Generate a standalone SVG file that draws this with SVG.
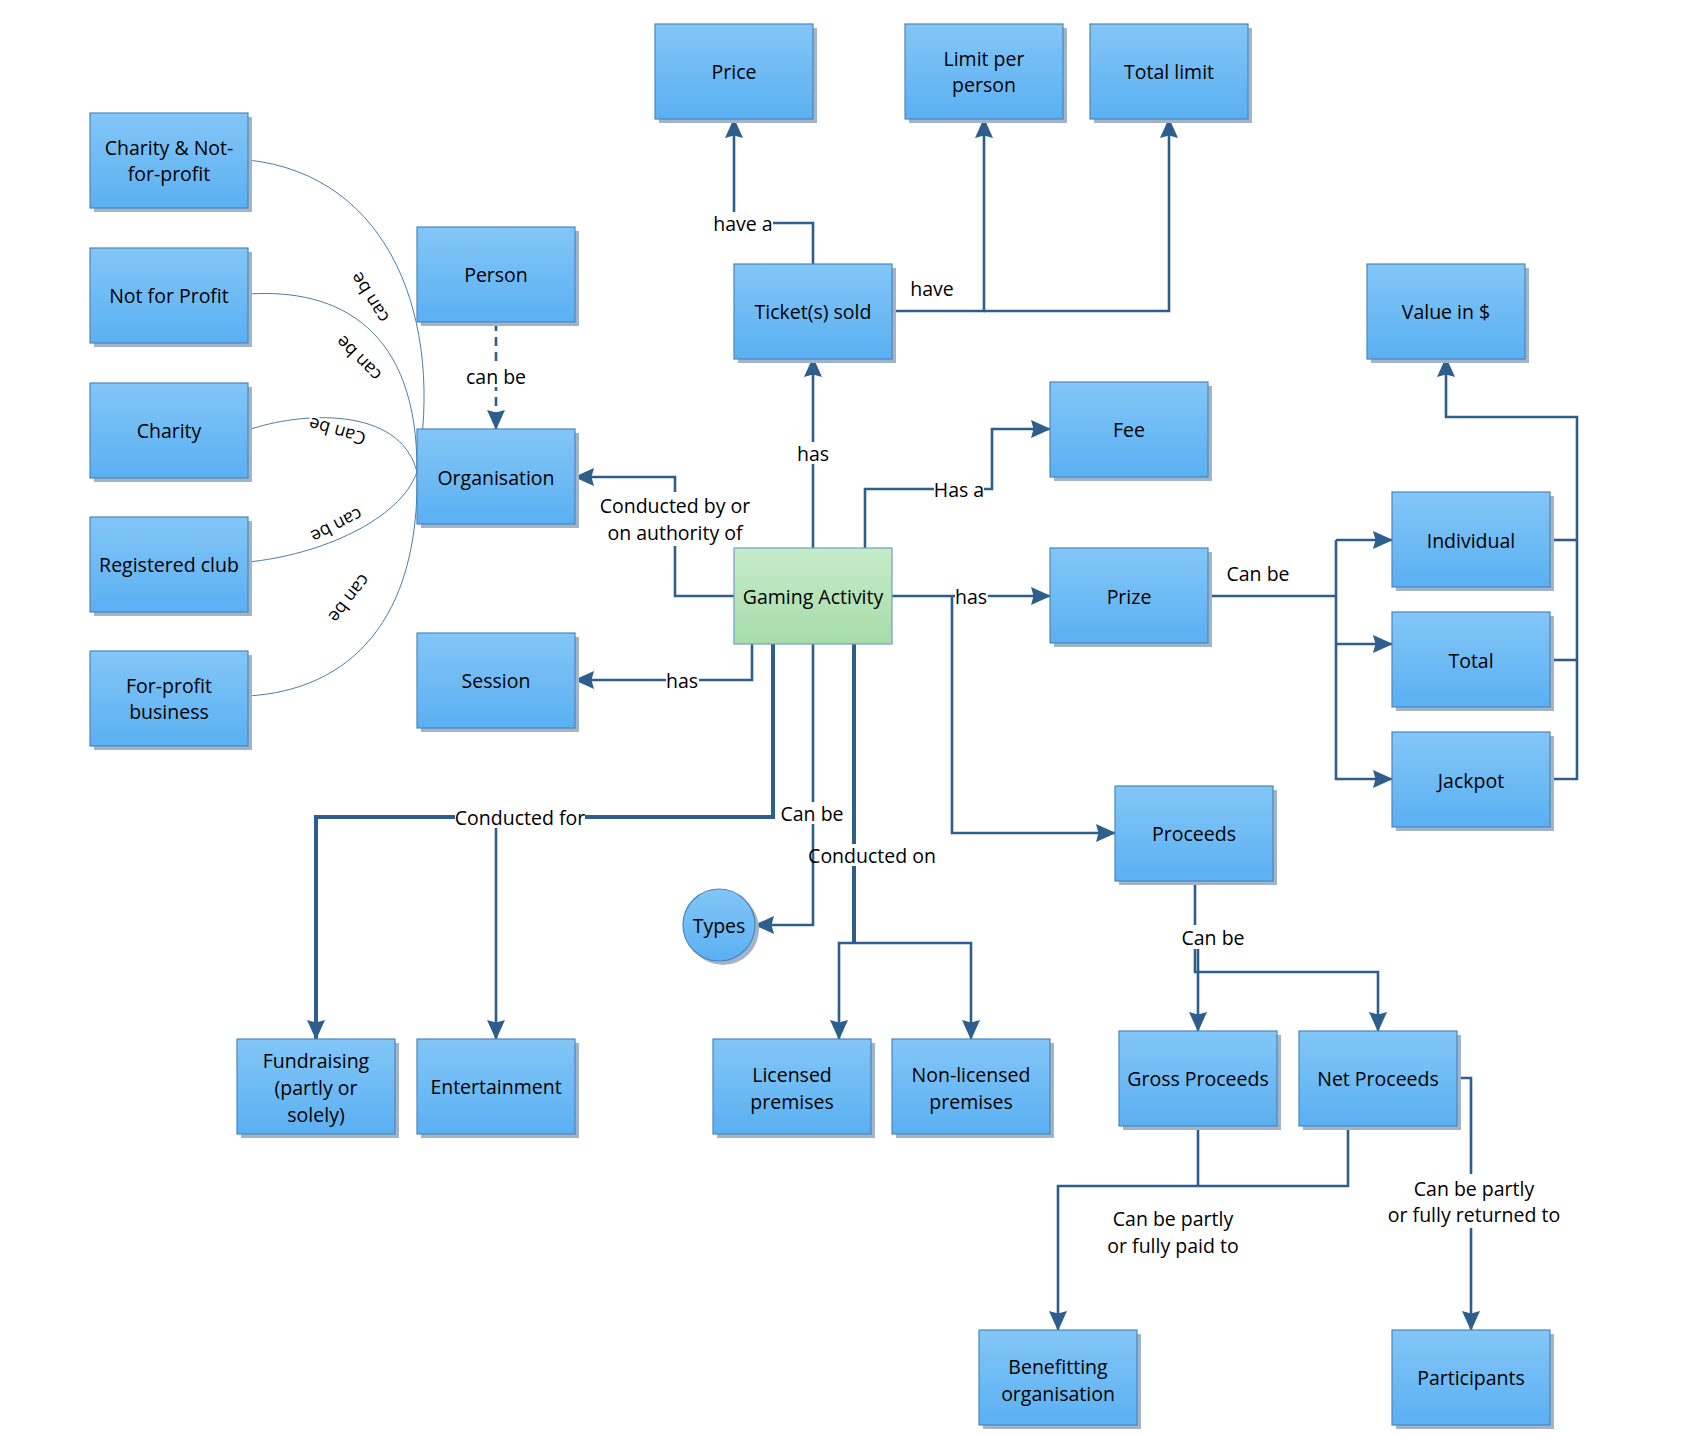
<svg xmlns="http://www.w3.org/2000/svg" width="1696" height="1434" viewBox="0 0 1696 1434">
<defs>
<linearGradient id="gb" x1="0" y1="0" x2="0" y2="1"><stop offset="0" stop-color="#83C6F7"/><stop offset="1" stop-color="#5AB0F2"/></linearGradient>
<linearGradient id="gg" x1="0" y1="0" x2="0" y2="1"><stop offset="0" stop-color="#C6EBC9"/><stop offset="1" stop-color="#A7DCAA"/></linearGradient>
<marker id="ah" viewBox="0 0 20 18" refX="19" refY="9" markerWidth="20" markerHeight="18" markerUnits="userSpaceOnUse" orient="auto"><path d="M0,0 L20,9 L0,18 L2.5,9 z" fill="#2E5E8B"/></marker>
<style>
.sh{fill:#A2B5C8}
.bx{fill:url(#gb);stroke:#4A86BE;stroke-width:1.2}
.gx{fill:url(#gg);stroke:#6E9EC6;stroke-width:1.2}
text{font-family:"Open Sans","Noto Sans","Liberation Sans",sans-serif;font-size:19.5px;fill:#000;text-anchor:middle;dominant-baseline:central}
.c{fill:none;stroke:#2E5E8B;stroke-width:2.6}
.ct{fill:none;stroke:#2E5E8B;stroke-width:4}
.a{marker-end:url(#ah)}
.d{stroke-dasharray:9 6}
.cv{fill:none;stroke:#4C7DA6;stroke-width:1}
.lbg{fill:#fff}
.cl{font-size:18px;stroke:#fff;stroke-width:5;paint-order:stroke;stroke-linejoin:round}
</style>
</defs>
<rect width="1696" height="1434" fill="#fff"/>

<g id="connectors">
<path class="cv" d="M248,160 C390,175 445,320 417,472"/>
<path class="cv" d="M248,294 C340,288 418,330 417,472"/>
<path class="cv" d="M248,430 C300,412 400,405 417,472"/>
<path class="cv" d="M248,562 C320,555 400,520 417,472"/>
<path class="cv" d="M248,696 C350,690 420,620 417,472"/>
<path class="c a" d="M813,264 V223 H734 V119"/>
<path class="c a" d="M892,311 H984 V119"/>
<path class="c a" d="M984,311 H1169 V119"/>
<path class="c a" d="M813,548 V358"/>
<path class="c a" d="M865,548 V489 H992 V429 H1050"/>
<path class="c a" d="M734,596 H675 V477 H575"/>
<path class="c a" d="M892,596 H1050"/>
<path class="c a" d="M952,596 V833 H1115"/>
<path class="c a" d="M752,644 V680 H575"/>
<path class="ct a" d="M773,644 V817 H316 V1039"/>
<path class="c a" d="M496,817 V1039"/>
<path class="c a" d="M813,644 V925 H755"/>
<path class="ct" d="M854,644 V943"/>
<path class="c a" d="M854,943 H839 V1039"/>
<path class="c a" d="M854,943 H971 V1039"/>
<path class="c" d="M1208,596 H1336"/>
<path class="c a" d="M1336,540 H1392"/>
<path class="c a" d="M1336,644 H1392"/>
<path class="c a" d="M1336,540 V779 H1392"/>
<path class="c" d="M1550,540 H1577"/>
<path class="c" d="M1550,660 H1577"/>
<path class="c a" d="M1550,779 H1577 V417 H1446 V358"/>
<path class="c a" d="M1195,880 V972 H1378 V1031"/>
<path class="c a" d="M1198,945 V1031"/>
<path class="c" d="M1198,1126 V1186"/>
<path class="c a" d="M1348,1126 V1186 H1058 V1330"/>
<path class="c a" d="M1457,1078 H1471 V1330"/>
<path class="c a d" d="M496,322 V429"/>

<rect class="lbg" x="713" y="212" width="60" height="22"/>
<rect class="lbg" x="795" y="442" width="36" height="22"/>
<rect class="lbg" x="934" y="478" width="50" height="22"/>
<rect class="lbg" x="598" y="492" width="154" height="54"/>
<rect class="lbg" x="955" y="585" width="33" height="22"/>
<rect class="lbg" x="666" y="669" width="33" height="22"/>
<rect class="lbg" x="455" y="806" width="130" height="22"/>
<rect class="lbg" x="780" y="802" width="64" height="22"/>
<rect class="lbg" x="818" y="844" width="120" height="22"/>
<rect class="lbg" x="1181" y="925" width="64" height="24"/>
<rect class="lbg" x="1388" y="1174" width="172" height="54"/>
<rect class="lbg" x="465" y="365" width="62" height="22"/>

<text x="743" y="223">have a</text>
<text x="932" y="288">have</text>
<text x="813" y="453">has</text>
<text x="959" y="489">Has a</text>
<text x="675" y="505">Conducted by or</text>
<text x="675" y="532">on authority of</text>
<text x="971" y="596">has</text>
<text x="682" y="680">has</text>
<text x="520" y="817">Conducted for</text>
<text x="812" y="813">Can be</text>
<text x="872" y="855">Conducted on</text>
<text x="1258" y="573">Can be</text>
<text x="1213" y="937">Can be</text>
<text x="1173" y="1218">Can be partly</text>
<text x="1173" y="1245">or fully paid to</text>
<text x="1474" y="1188">Can be partly</text>
<text x="1474" y="1214">or fully returned to</text>
<text x="496" y="376">can be</text>
<text class="cl" transform="translate(369,298) rotate(-122)">can be</text>
<text class="cl" transform="translate(358,359) rotate(-135)">can be</text>
<text class="cl" transform="translate(337,432) rotate(-164)">Can be</text>
<text class="cl" transform="translate(337,526) rotate(153)">can be</text>
<text class="cl" transform="translate(350,599) rotate(128)">can be</text>
</g>

<g id="n-charity-nfp"><rect class="sh" x="94" y="117" width="158" height="95"/><rect class="bx" x="90" y="113" width="158" height="95"/><text x="169" y="147">Charity &amp; Not-</text><text x="169" y="173">for-profit</text></g>
<g id="n-nfp"><rect class="sh" x="94" y="252" width="158" height="95"/><rect class="bx" x="90" y="248" width="158" height="95"/><text x="169" y="295">Not for Profit</text></g>
<g id="n-charity"><rect class="sh" x="94" y="387" width="158" height="95"/><rect class="bx" x="90" y="383" width="158" height="95"/><text x="169" y="430">Charity</text></g>
<g id="n-club"><rect class="sh" x="94" y="521" width="158" height="95"/><rect class="bx" x="90" y="517" width="158" height="95"/><text x="169" y="564">Registered club</text></g>
<g id="n-forprofit"><rect class="sh" x="94" y="655" width="158" height="95"/><rect class="bx" x="90" y="651" width="158" height="95"/><text x="169" y="685">For-profit</text><text x="169" y="711">business</text></g>
<g id="n-person"><rect class="sh" x="421" y="231" width="158" height="95"/><rect class="bx" x="417" y="227" width="158" height="95"/><text x="496" y="274">Person</text></g>
<g id="n-org"><rect class="sh" x="421" y="433" width="158" height="95"/><rect class="bx" x="417" y="429" width="158" height="95"/><text x="496" y="477">Organisation</text></g>
<g id="n-session"><rect class="sh" x="421" y="637" width="158" height="95"/><rect class="bx" x="417" y="633" width="158" height="95"/><text x="496" y="680">Session</text></g>
<g id="n-price"><rect class="sh" x="659" y="28" width="158" height="95"/><rect class="bx" x="655" y="24" width="158" height="95"/><text x="734" y="71">Price</text></g>
<g id="n-limitpp"><rect class="sh" x="909" y="28" width="158" height="95"/><rect class="bx" x="905" y="24" width="158" height="95"/><text x="984" y="58">Limit per</text><text x="984" y="84">person</text></g>
<g id="n-totallimit"><rect class="sh" x="1094" y="28" width="158" height="95"/><rect class="bx" x="1090" y="24" width="158" height="95"/><text x="1169" y="71">Total limit</text></g>
<g id="n-ticket"><rect class="sh" x="738" y="268" width="158" height="95"/><rect class="bx" x="734" y="264" width="158" height="95"/><text x="813" y="311">Ticket(s) sold</text></g>
<g id="n-value"><rect class="sh" x="1371" y="268" width="158" height="95"/><rect class="bx" x="1367" y="264" width="158" height="95"/><text x="1446" y="311">Value in $</text></g>
<g id="n-fee"><rect class="sh" x="1054" y="386" width="158" height="95"/><rect class="bx" x="1050" y="382" width="158" height="95"/><text x="1129" y="429">Fee</text></g>
<g id="n-gaming"><rect class="gx" x="734" y="548" width="158" height="96"/><text x="813" y="596">Gaming Activity</text></g>
<g id="n-prize"><rect class="sh" x="1054" y="552" width="158" height="95"/><rect class="bx" x="1050" y="548" width="158" height="95"/><text x="1129" y="596">Prize</text></g>
<g id="n-individual"><rect class="sh" x="1396" y="496" width="158" height="95"/><rect class="bx" x="1392" y="492" width="158" height="95"/><text x="1471" y="540">Individual</text></g>
<g id="n-total"><rect class="sh" x="1396" y="616" width="158" height="95"/><rect class="bx" x="1392" y="612" width="158" height="95"/><text x="1471" y="660">Total</text></g>
<g id="n-jackpot"><rect class="sh" x="1396" y="736" width="158" height="95"/><rect class="bx" x="1392" y="732" width="158" height="95"/><text x="1471" y="780">Jackpot</text></g>
<g id="n-proceeds"><rect class="sh" x="1119" y="790" width="158" height="95"/><rect class="bx" x="1115" y="786" width="158" height="95"/><text x="1194" y="833">Proceeds</text></g>
<g id="n-types"><circle class="sh" cx="723" cy="929" r="36"/><circle class="bx" cx="719" cy="925" r="36"/><text x="719" y="925">Types</text></g>
<g id="n-fundraising"><rect class="sh" x="241" y="1043" width="158" height="95"/><rect class="bx" x="237" y="1039" width="158" height="95"/><text x="316" y="1060">Fundraising</text><text x="316" y="1087">(partly or</text><text x="316" y="1114">solely)</text></g>
<g id="n-entertainment"><rect class="sh" x="421" y="1043" width="158" height="95"/><rect class="bx" x="417" y="1039" width="158" height="95"/><text x="496" y="1086">Entertainment</text></g>
<g id="n-licensed"><rect class="sh" x="717" y="1043" width="158" height="95"/><rect class="bx" x="713" y="1039" width="158" height="95"/><text x="792" y="1074">Licensed</text><text x="792" y="1101">premises</text></g>
<g id="n-nonlicensed"><rect class="sh" x="896" y="1043" width="158" height="95"/><rect class="bx" x="892" y="1039" width="158" height="95"/><text x="971" y="1074">Non-licensed</text><text x="971" y="1101">premises</text></g>
<g id="n-gross"><rect class="sh" x="1123" y="1035" width="158" height="95"/><rect class="bx" x="1119" y="1031" width="158" height="95"/><text x="1198" y="1078">Gross Proceeds</text></g>
<g id="n-net"><rect class="sh" x="1303" y="1035" width="158" height="95"/><rect class="bx" x="1299" y="1031" width="158" height="95"/><text x="1378" y="1078">Net Proceeds</text></g>
<g id="n-benefitting"><rect class="sh" x="983" y="1334" width="158" height="95"/><rect class="bx" x="979" y="1330" width="158" height="95"/><text x="1058" y="1366">Benefitting</text><text x="1058" y="1393">organisation</text></g>
<g id="n-participants"><rect class="sh" x="1396" y="1334" width="158" height="95"/><rect class="bx" x="1392" y="1330" width="158" height="95"/><text x="1471" y="1377">Participants</text></g>
</svg>
